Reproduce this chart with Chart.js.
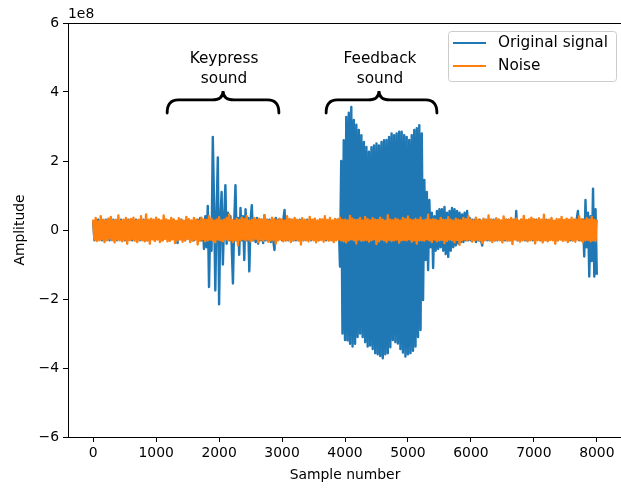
<!DOCTYPE html>
<html>
<head>
<meta charset="utf-8">
<script src="https://cdn.jsdelivr.net/npm/chart.js@4.4.1/dist/chart.umd.min.js"></script>
<style>
  html, body { margin: 0; padding: 0; background: #fff; overflow: hidden; }
  canvas { display: block; }
</style>
</head>
<body>
<canvas id="js-signal-chart" width="630" height="490"></canvas>
<script>
// one value every 20 samples, amplitude in units of 1e8 (one row = 400 samples)
const sampleStep = 20;

const originalSignal = [
  0.25, -0.3, 0.2, -0.25, 0.3, -0.2, 0.25, -0.3, 0.2, -0.25, 0.3, -0.25, 0.2, -0.3, 0.25, -0.2, 0.3, -0.25, 0.2, -0.3,
  0.25, -0.2, 0.3, -0.25, 0.2, -0.3, 0.25, -0.2, 0.3, -0.25, 0.2, -0.3, 0.25, -0.25, 0.3, -0.2, 0.25, -0.3, 0.2, -0.25,
  0.3, -0.25, 0.2, -0.3, 0.25, -0.2, 0.3, -0.25, 0.2, -0.3, 0.25, -0.2, 0.3, -0.25, 0.2, -0.3, 0.25, -0.2, 0.3, -0.25,
  0.2, -0.3, 0.25, -0.25, 0.3, -0.2, 0.25, -0.38, 0.2, -0.25, 0.3, -0.2, 0.25, -0.3, 0.2, -0.25, 0.3, -0.25, 0.2, -0.3,
  -0.3, 0.25, -0.25, 0.3, -0.3, 0.35, -0.3, 0.3, -0.55, 0.4, -0.5, 0.7, -1.65, 0.3, -0.6, 2.7, 0.8, -1.75, 0.5, 2.1,
  -2.15, 0.3, 1.1, -1.0, 0.3, 1.3, -0.4, 0.5, -0.3, 0.4, -0.45, -1.55, 0.2, 1.3, -0.3, 0.35, -0.72, 0.64, -0.3, 0.4,
  -0.87, 0.6, -0.3, 0.35, -1.2, 0.3, 0.72, -0.3, 0.3, -0.35, 0.35, -0.4, 0.3, -0.3, 0.3, -0.38, 0.43, -0.3, 0.3, -0.3,
  0.3, -0.35, 0.3, -0.3, -0.58, 0.35, -0.3, 0.3, -0.25, 0.3, -0.3, 0.3, 0.58, -0.3, 0.25, -0.3, 0.3, -0.25, 0.3, -0.3,
  0.25, -0.3, 0.2, -0.25, 0.3, -0.2, 0.25, -0.3, 0.2, -0.25, 0.3, -0.25, 0.2, -0.3, 0.25, -0.2, 0.3, -0.25, 0.2, -0.3,
  0.25, -0.2, 0.3, -0.25, 0.2, -0.3, 0.25, -0.2, 0.3, -0.25, 0.2, -0.3, 0.25, -0.25, 0.3, 0.3, -1.06, 2.0, -3.0, 2.6,
  -3.19, 3.28, -3.2, 3.4, -3.3, 3.57, -3.38, 3.19, -3.3, 3.05, -3.1, 2.9, -3.0, 2.75, -3.1, 2.55, -3.25, 2.41, -3.38, 2.27,
  -3.35, 2.4, -3.45, 2.45, -3.57, 2.51, -3.6, 2.45, -3.65, 2.55, -3.72, 2.6, -3.6, 2.61, -3.57, 2.7, -3.4, 2.8, -3.19, 2.75,
  -3.25, 2.8, -3.29, 2.85, -3.45, 2.85, -3.55, 2.75, -3.67, 2.7, -3.6, 2.61, -3.57, 2.75, -3.5, 2.9, -3.38, 2.95, -3.1, 3.04,
  -2.9, 2.8, -2.03, 1.45, -0.87, 1.1, -1.16, 0.87, -0.5, 0.5, -1.1, 0.4, -0.6, 0.55, -0.55, 0.6, -0.5, 0.6, -0.6, 0.67,
  -0.7, 0.5, -0.78, 0.55, -0.6, 0.64, -0.5, 0.6, -0.45, 0.55, -0.4, 0.5, -0.35, 0.45, -0.35, 0.5, -0.3, 0.55, -0.3, 0.35,
  -0.3, 0.3, -0.25, 0.3, -0.35, 0.25, -0.3, 0.3, -0.3, -0.45, 0.3, -0.25, 0.3, -0.3, 0.25, -0.3, 0.3, -0.25, 0.3, -0.3,
  0.25, -0.3, 0.3, -0.25, 0.2, -0.3, 0.25, -0.3, 0.3, -0.25, 0.3, -0.3, 0.25, -0.2, 0.3, -0.25, 0.55, -0.3, 0.25, -0.3,
  0.3, -0.25, 0.2, -0.3, 0.25, -0.3, 0.3, -0.25, 0.3, -0.3, 0.25, -0.2, 0.3, -0.25, 0.2, -0.3, 0.25, -0.3, 0.3, -0.25,
  0.3, -0.3, 0.25, -0.2, 0.3, -0.25, 0.2, -0.3, 0.25, -0.3, 0.3, -0.25, 0.3, -0.3, 0.25, -0.2, 0.3, -0.25, 0.2, -0.3,
  0.25, -0.3, 0.3, -0.25, 0.3, 0.55, -0.3, 0.25, -0.3, 0.3, -0.77, 0.87, -0.5, 0.5, -1.35, 0.4, -0.9, 1.2, -1.35, 0.6,
  -1.3
];

const noise = [
  0.3, -0.28, 0.35, -0.32, 0.25, -0.3, 0.4, -0.27, 0.3, -0.35, 0.28, -0.3, 0.33, -0.25, 0.38, -0.3, 0.27, -0.36, 0.3, -0.28,
  0.42, -0.3, 0.26, -0.33, 0.3, -0.27, 0.35, -0.4, 0.28, -0.3, 0.32, -0.26, 0.36, -0.31, 0.27, -0.35, 0.3, -0.28, 0.4, -0.3,
  0.27, -0.33, 0.45, -0.3, 0.3, -0.4, 0.33, -0.27, 0.3, -0.32, 0.36, -0.28, 0.3, -0.35, 0.28, -0.3, 0.42, -0.26, 0.3, -0.33,
  0.28, -0.31, 0.35, -0.27, 0.3, -0.38, 0.26, -0.3, 0.34, -0.28, 0.3, -0.34, 0.27, -0.3, 0.38, -0.26, 0.31, -0.35, 0.28, -0.3,
  0.35, -0.28, 0.3, -0.42, 0.27, -0.31, 0.36, -0.27, 0.3, -0.33, 0.29, -0.3, 0.4, -0.28, 0.33, -0.3, 0.27, -0.36, 0.3, -0.28,
  0.37, -0.3, 0.28, -0.33, 0.3, -0.27, 0.35, -0.3, 0.45, -0.29, 0.3, -0.35, 0.27, -0.3, 0.33, -0.44, 0.29, -0.3, 0.36, -0.27,
  0.31, -0.3, 0.4, -0.28, 0.27, -0.33, 0.3, -0.3, 0.35, -0.26, 0.29, -0.36, 0.33, -0.28, 0.3, -0.31, 0.42, -0.27, 0.3, -0.34,
  0.27, -0.3, 0.36, -0.29, 0.31, -0.4, 0.28, -0.3, 0.33, -0.27, 0.3, -0.33, 0.27, -0.3, 0.4, -0.28, 0.32, -0.35, 0.29, -0.3,
  0.35, -0.27, 0.3, -0.31, 0.28, -0.42, 0.34, -0.29, 0.3, -0.3, 0.27, -0.33, 0.38, -0.28, 0.3, -0.3, 0.33, -0.36, 0.28, -0.3,
  0.31, -0.29, 0.3, -0.34, 0.4, -0.27, 0.29, -0.31, 0.35, -0.3, 0.28, -0.35, 0.32, -0.3, 0.3, -0.28, 0.36, -0.3, 0.29, -0.33,
  0.3, -0.36, 0.28, -0.3, 0.41, -0.27, 0.33, -0.3, 0.29, -0.39, 0.3, -0.28, 0.35, -0.31, 0.27, -0.3, 0.38, -0.29, 0.31, -0.34,
  0.28, -0.3, 0.34, -0.27, 0.3, -0.41, 0.29, -0.33, 0.36, -0.28, 0.3, -0.3, 0.27, -0.35, 0.43, -0.29, 0.3, -0.32, 0.28, -0.3,
  0.33, -0.28, 0.3, -0.37, 0.27, -0.3, 0.35, -0.29, 0.31, -0.3, 0.39, -0.27, 0.3, -0.34, 0.28, -0.3, 0.32, -0.4, 0.29, -0.3,
  0.36, -0.3, 0.28, -0.31, 0.3, -0.27, 0.44, -0.3, 0.29, -0.35, 0.31, -0.28, 0.3, -0.33, 0.27, -0.3, 0.35, -0.29, 0.3, -0.38,
  0.29, -0.32, 0.37, -0.28, 0.3, -0.3, 0.27, -0.36, 0.33, -0.29, 0.3, -0.43, 0.28, -0.3, 0.35, -0.27, 0.31, -0.3, 0.4, -0.28,
  0.3, -0.34, 0.28, -0.3, 0.36, -0.29, 0.3, -0.31, 0.27, -0.38, 0.33, -0.3, 0.29, -0.28, 0.42, -0.3, 0.3, -0.35, 0.28, -0.3,
  0.34, -0.29, 0.3, -0.3, 0.28, -0.36, 0.39, -0.27, 0.3, -0.32, 0.29, -0.3, 0.35, -0.41, 0.3, -0.28, 0.33, -0.3, 0.27, -0.34,
  0.3, -0.3, 0.41, -0.28, 0.29, -0.33, 0.3, -0.3, 0.36, -0.27, 0.31, -0.39, 0.28, -0.3, 0.34, -0.29, 0.3, -0.36, 0.44, -0.3,
  0.28, -0.33, 0.3, -0.29, 0.35, -0.3, 0.27, -0.4, 0.32, -0.3, 0.3, -0.28, 0.38, -0.31, 0.29, -0.3, 0.33, -0.35, 0.3, -0.27,
  0.36, -0.3, 0.29, -0.34, 0.3, -0.28, 0.4, -0.3, 0.31, -0.36, 0.28, -0.3, 0.34, -0.29, 0.3, -0.33, 0.38, -0.3, 0.29, -0.32,
  0.3
];

const xTicks = [0, 1000, 2000, 3000, 4000, 5000, 6000, 7000, 8000];
const yTicks = [-6, -4, -2, 0, 2, 4, 6];

// brace annotations, in data units (x = sample, y = 1e8)
const braces = [
  { label: ['Keypress', 'sound'], from: 1175, to: 2950, tip: 2063 },
  { label: ['Feedback', 'sound'], from: 3700, to: 5460, tip: 4540 },
];

const seriesNames = ['Original signal', 'Noise'];
const seriesColors = ['#1f77b4', '#ff7f0e'];

const tickFont = { family: 'DejaVu Sans', size: 13.9 };
const bigFont = '15.3px "DejaVu Sans"';

const toPoints = (values) => values.map((v, i) => ({ x: i * sampleStep, y: v }));

const decorations = {
  id: 'decorations',
  afterDatasetsDraw(chart) {
    const { ctx, chartArea, scales: { x, y } } = chart;
    ctx.save();

    // top spine
    ctx.strokeStyle = '#000';
    ctx.lineWidth = 1;
    ctx.beginPath();
    ctx.moveTo(chartArea.left, chartArea.top + 0.5);
    ctx.lineTo(chartArea.right, chartArea.top + 0.5);
    ctx.stroke();

    // offset label
    ctx.fillStyle = '#000';
    ctx.font = '13.9px "DejaVu Sans"';
    ctx.textAlign = 'left';
    ctx.textBaseline = 'alphabetic';
    ctx.fillText('1e8', chartArea.left, 18);

    // braces and their labels
    for (const b of braces) {
      const x0 = x.getPixelForValue(b.from);
      const x1 = x.getPixelForValue(b.to);
      const xc = x.getPixelForValue(b.tip);
      const yTip = y.getPixelForValue(4.03);
      const yMid = y.getPixelForValue(3.77);
      const yEnd = y.getPixelForValue(3.39);
      const r = 11;

      ctx.strokeStyle = '#000';
      ctx.lineWidth = 2.8;
      ctx.lineCap = 'round';
      ctx.beginPath();
      ctx.moveTo(x0, yEnd);
      ctx.quadraticCurveTo(x0, yMid, x0 + r, yMid);
      ctx.lineTo(xc - r, yMid);
      ctx.quadraticCurveTo(xc, yMid, xc, yTip);
      ctx.quadraticCurveTo(xc, yMid, xc + r, yMid);
      ctx.lineTo(x1 - r, yMid);
      ctx.quadraticCurveTo(x1, yMid, x1, yEnd);
      ctx.stroke();

      ctx.font = bigFont;
      ctx.textAlign = 'center';
      ctx.textBaseline = 'middle';
      ctx.fillText(b.label[0], xc + 1, y.getPixelForValue(4.96));
      ctx.fillText(b.label[1], xc + 1, y.getPixelForValue(4.38));
    }

    // legend box
    const box = { x: 448.5, y: 31.5, w: 168, h: 50 };
    ctx.beginPath();
    ctx.roundRect(box.x, box.y, box.w, box.h, 3);
    ctx.fillStyle = 'rgba(255,255,255,0.8)';
    ctx.fill();
    ctx.strokeStyle = '#cccccc';
    ctx.lineWidth = 1;
    ctx.stroke();

    ctx.font = bigFont;
    ctx.textAlign = 'left';
    ctx.textBaseline = 'middle';
    seriesNames.forEach((name, i) => {
      const rowY = 43 + i * 23;
      ctx.strokeStyle = seriesColors[i];
      ctx.lineWidth = 2;
      ctx.lineCap = 'butt';
      ctx.beginPath();
      ctx.moveTo(453, rowY);
      ctx.lineTo(486, rowY);
      ctx.stroke();
      ctx.fillStyle = '#000';
      ctx.fillText(name, 498, rowY);
    });

    ctx.restore();
  }
};

Chart.defaults.color = '#000';
Chart.defaults.font.family = 'DejaVu Sans';

// Chart.js paints lower "order" last, so noise (order 0) sits on top like in matplotlib
const signalData = {
  datasets: [{
    label: seriesNames[0],
    data: toPoints(originalSignal),
    borderColor: seriesColors[0],
    borderWidth: 2.4,
    order: 1,
  }, {
    label: seriesNames[1],
    data: toPoints(noise),
    borderColor: seriesColors[1],
    borderWidth: 2.4,
    order: 0,
  }]
};

const signalConfig = {
  type: 'line',
  data: signalData,
  options: {
    responsive: false,
    animation: false,
    devicePixelRatio: 1,
    layout: {
      padding: { top: 23, right: 8, left: 0, bottom: 0 }
    },
    elements: {
      point: { radius: 0 },
      line: { tension: 0, borderJoinStyle: 'round' }
    },
    scales: {
      x: {
        type: 'linear',
        min: -400,
        max: 8400,
        afterBuildTicks: (scale) => { scale.ticks = xTicks.map(v => ({ value: v })); },
        afterFit: (scale) => { scale.height = 53; },
        ticks: {
          font: tickFont,
          maxRotation: 0,
          autoSkip: false,
          padding: 3,
          callback: (v) => String(v)
        },
        grid: { drawOnChartArea: false, drawTicks: true, tickLength: 5, color: '#000' },
        border: { display: true, color: '#000', width: 1 },
        title: { display: true, text: 'Sample number', font: tickFont, padding: { top: 0, bottom: 6 } }
      },
      y: {
        min: -6,
        max: 6,
        afterBuildTicks: (scale) => { scale.ticks = yTicks.map(v => ({ value: v })); },
        afterFit: (scale) => { scale.width = 68; },
        ticks: {
          font: tickFont,
          padding: 4,
          callback: (v) => (v < 0 ? '\u2212' + Math.abs(v) : String(v))
        },
        grid: { drawOnChartArea: false, drawTicks: true, tickLength: 5, color: '#000' },
        border: { display: true, color: '#000', width: 1 },
        title: { display: true, text: 'Amplitude', font: tickFont, padding: { top: 12, bottom: 0 } }
      }
    },
    plugins: {
      legend: { display: false },
      tooltip: { enabled: false }
    }
  },
  plugins: [decorations]
};

new Chart(document.querySelector('#js-signal-chart'), signalConfig);
</script>
</body>
</html>
